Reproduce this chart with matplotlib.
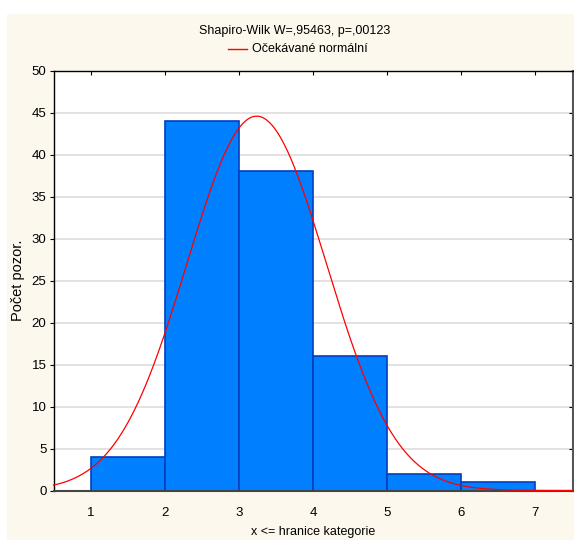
import numpy as np
import matplotlib
matplotlib.use("Agg")
import matplotlib.pyplot as plt
from matplotlib.patches import Rectangle
from matplotlib.lines import Line2D

# Data
bin_edges = [1, 2, 3, 4, 5, 6, 7]
counts = [4, 44, 38, 16, 2, 1]
n_total = 105
mean_est = 3.24
sd_est = 0.94
title_text = "Shapiro-Wilk W=,95463, p=,00123"
legend_text = "Očekávané normální"
xlabel_text = "x <= hranice kategorie"
ylabel_text = "Počet pozor."
yticks = [0, 5, 10, 15, 20, 25, 30, 35, 40, 45, 50]
xticks = [1, 2, 3, 4, 5, 6, 7]

plt.rcParams['font.family'] = ['Liberation Sans', 'DejaVu Sans']

W, H = 574, 540
fig = plt.figure(figsize=(W/100, H/100), dpi=100)
fig.patch.set_facecolor('white')
cream = '#FCF8EE'
fig.patches.append(Rectangle((7/W, 0), 1 - 7/W, 1 - 14/H, transform=fig.transFigure,
                             facecolor=cream, edgecolor='none', zorder=-10))

left, right, top, bottom = 53.5, 572.5, 70.5, 490.5
ax = fig.add_axes([left/W, 1 - bottom/H, (right-left)/W, (bottom-top)/H])
ax.set_facecolor('white')

widths = np.diff(bin_edges)
ax.bar(bin_edges[:-1], counts, width=widths, align='edge', color='#0080FF',
       edgecolor='#0040C0', linewidth=1.2, zorder=2)

xs = np.linspace(0.5, 7.5, 400)
ys = n_total * 1.0 / (sd_est * np.sqrt(2*np.pi)) * np.exp(-0.5*((xs-mean_est)/sd_est)**2)
ax.plot(xs, ys, color='#FF0000', linewidth=0.9, zorder=3, clip_on=False)

ax.set_xlim(0.5, 7.5)
ax.set_ylim(0, 50)
ax.set_yticks(yticks)
ax.set_xticks(xticks)
ax.yaxis.grid(True, color='#DDDDDD', linewidth=1.2, zorder=0)
ax.set_axisbelow(True)

ax.tick_params(axis='y', which='both', direction='out', length=3, width=0.8,
               labelsize=9.5, right=True, pad=2)
ax.tick_params(axis='x', which='both', direction='in', length=3, width=0.8,
               labelsize=9.5, top=True, bottom=False, pad=12)
for line in ax.yaxis.get_majorticklines()[1::2]:
    line.set_marker(0)
    line.set_markersize(3)

for s in ['top', 'left']:
    ax.spines[s].set_color('black')
    ax.spines[s].set_linewidth(1.0)
ax.spines['right'].set_color('#555555')
ax.spines['right'].set_linewidth(1.5)
ax.spines['bottom'].set_color('#444444')
ax.spines['bottom'].set_linewidth(1.5)

fig.text(295/W, 1 - 31/H, title_text, ha='center', va='center', fontsize=9)
fig.lines.append(Line2D([228/W, 247/W], [1 - 49/H, 1 - 49/H], transform=fig.transFigure,
                        color='#FF0000', linewidth=1.0))
fig.text(252/W, 1 - 49/H, legend_text, ha='left', va='center', fontsize=9)
fig.text(313/W, 1 - 532/H, xlabel_text, ha='center', va='center', fontsize=9)
fig.text(18/W, 1 - 280/H, ylabel_text, ha='center', va='center', rotation=90, fontsize=10.5)

fig.savefig('out.png', dpi=100, facecolor=fig.get_facecolor())
